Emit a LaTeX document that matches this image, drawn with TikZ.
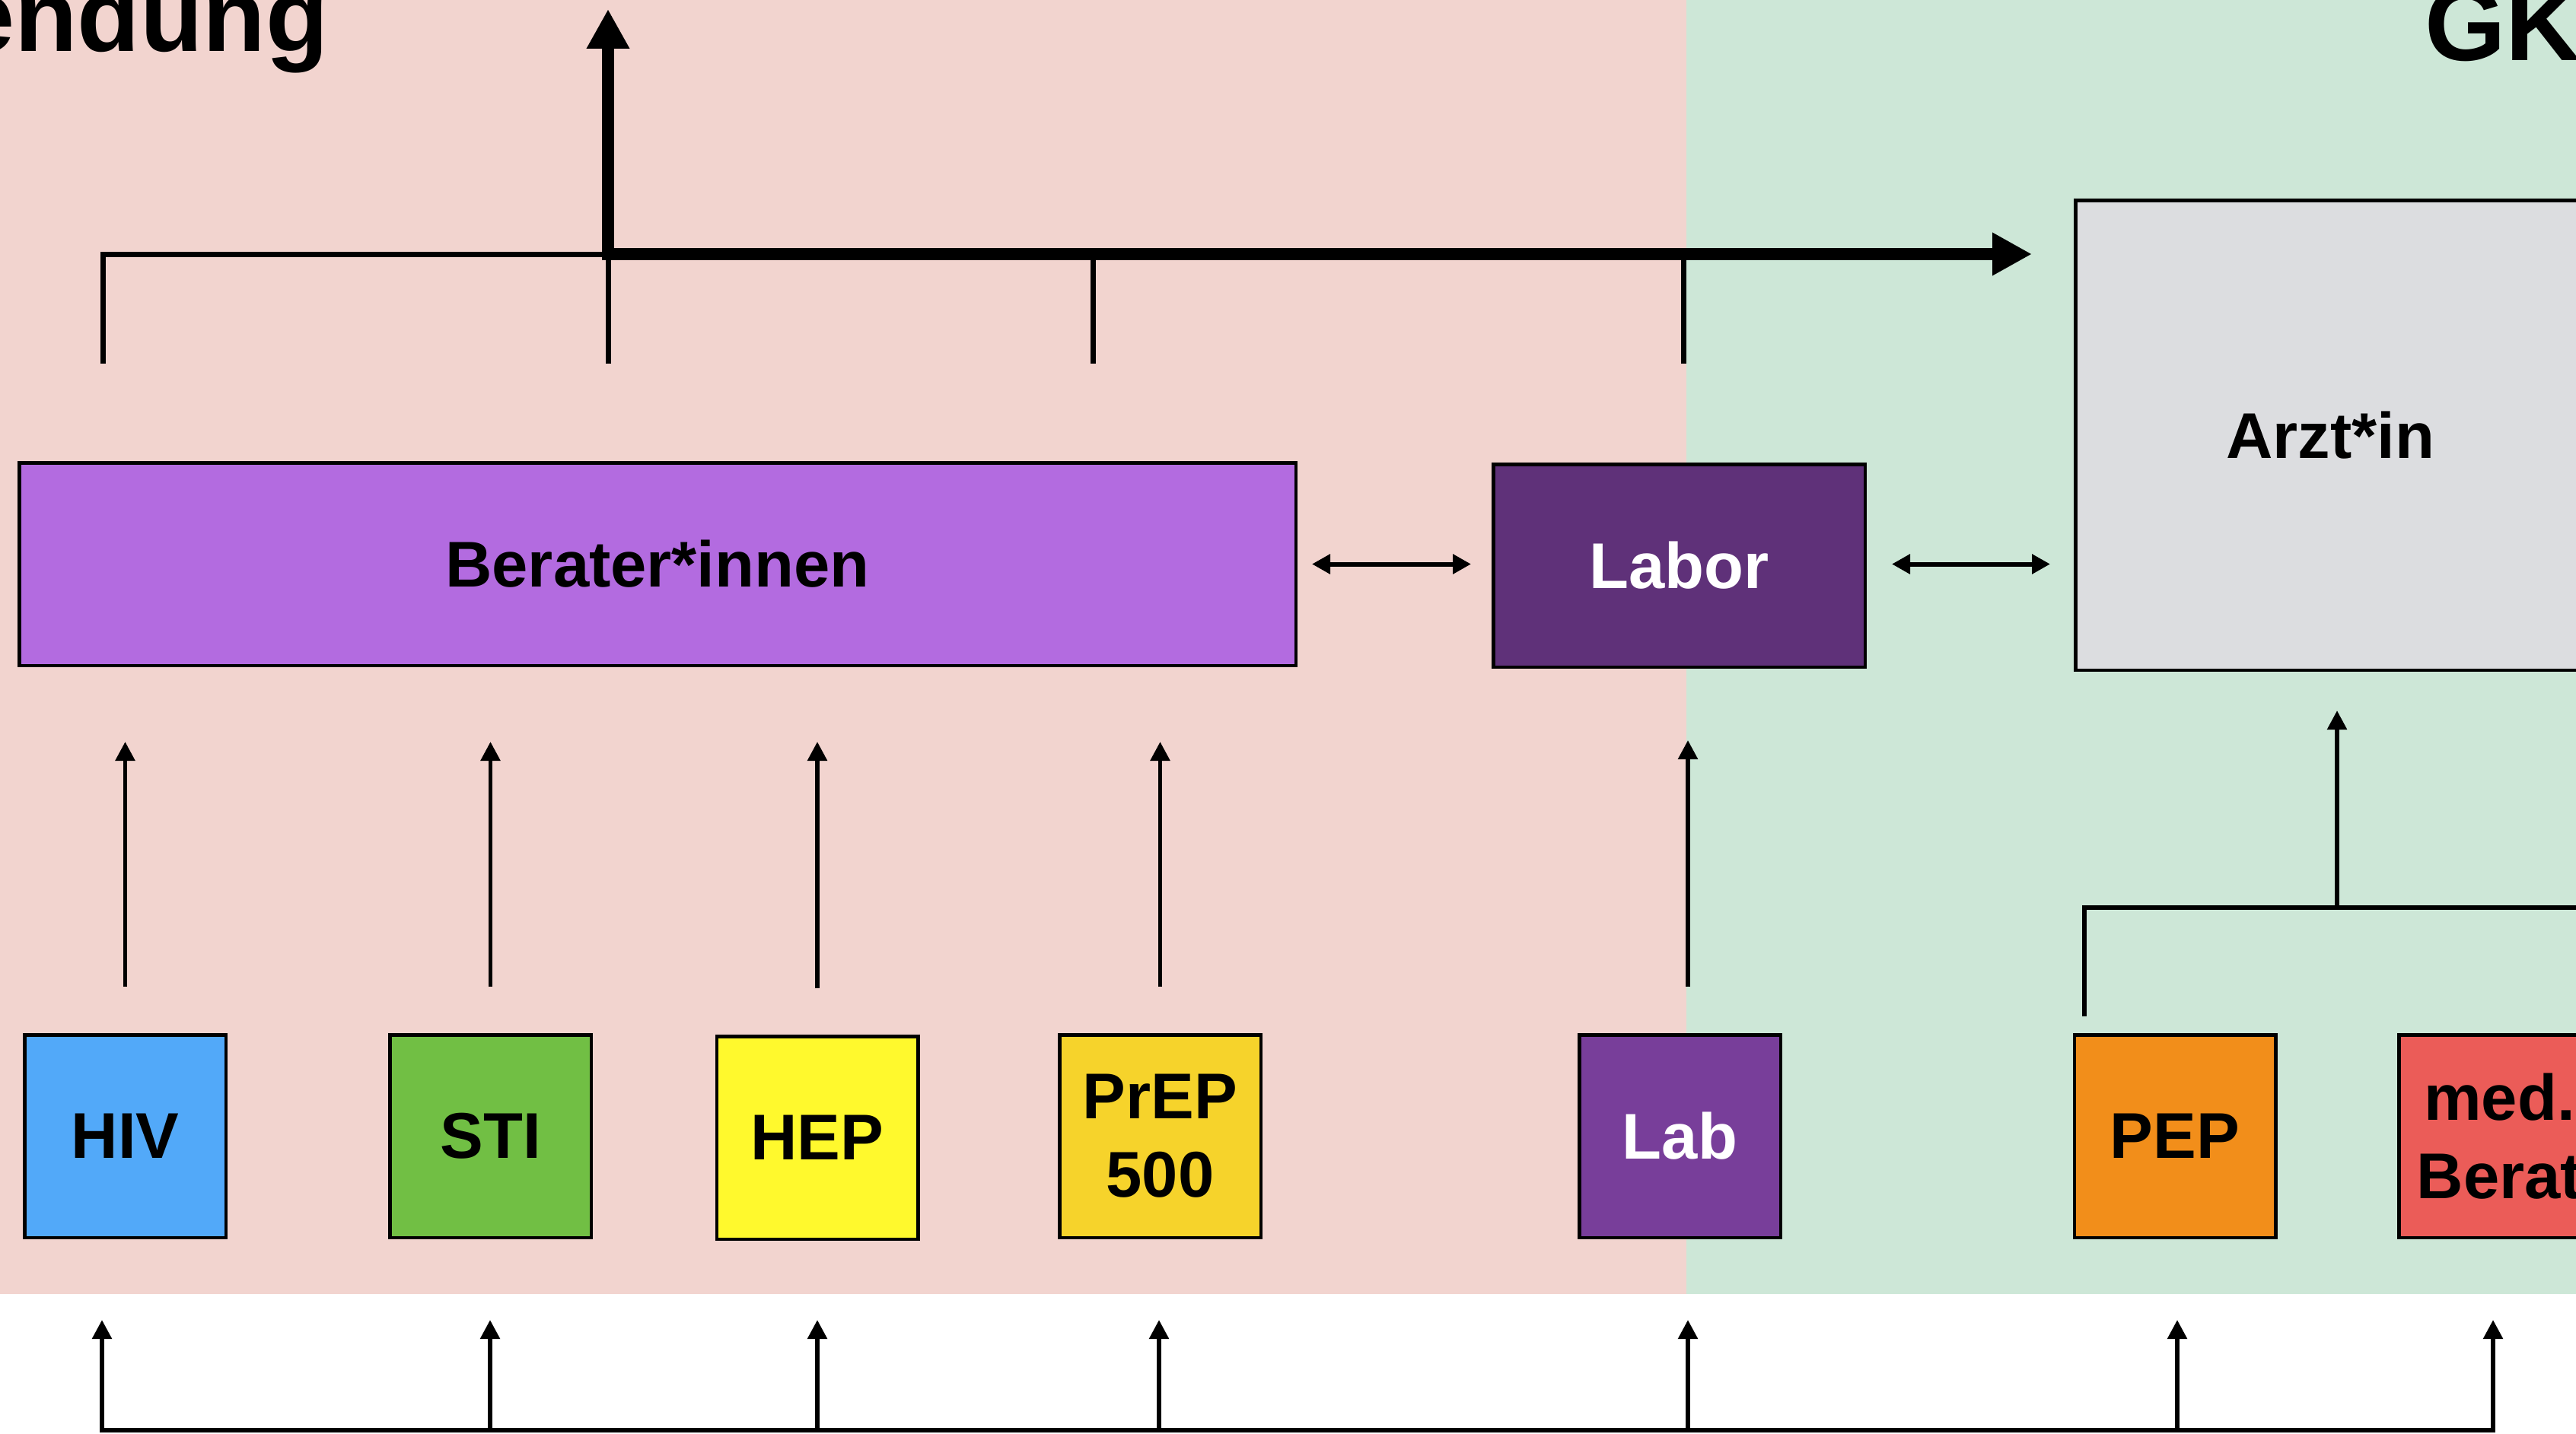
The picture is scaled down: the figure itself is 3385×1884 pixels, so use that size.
\documentclass[tikz,border=0pt]{standalone}
\usepackage{fontspec}
\setmainfont{Liberation Sans}
\usetikzlibrary{arrows.meta,calc}
\definecolor{pinkbg}{HTML}{F2D4CF}
\definecolor{greenbg}{HTML}{CDE7D7}
\definecolor{berc}{HTML}{B36BE0}
\definecolor{laborc}{HTML}{5F3179}
\definecolor{arztc}{HTML}{DCDDE0}
\definecolor{hivc}{HTML}{52A9F9}
\definecolor{stic}{HTML}{71BF44}
\definecolor{hepc}{HTML}{FFF92D}
\definecolor{prepc}{HTML}{F6D32B}
\definecolor{labc}{HTML}{783E9A}
\definecolor{pepc}{HTML}{F28E1A}
\definecolor{medc}{HTML}{EB5C58}
\newcommand\bxfont{\fontsize{85}{103}\selectfont\bfseries}
\newcommand\ttlfont{\fontsize{135}{150}\selectfont\bfseries}
\newcommand\ttlfontb{\fontsize{137}{150}\selectfont\bfseries}
\begin{document}
\begin{tikzpicture}[x=1pt,y=-1pt,
  box/.style={draw=black, line width=4.5pt, inner sep=0pt, align=center, font=\bxfont,
              minimum width=264.5pt, minimum height=266.5pt},
  conn/.style={line width=5.5pt},
  thinb/.style={line width=7pt},
  arr/.style={line width=5.5pt, -{Triangle[length=25pt,width=25pt]}},
  darr/.style={line width=6pt, {Triangle[length=24pt,width=25pt]}-{Triangle[length=24pt,width=25pt]}},
  bigarr/.style={line width=16pt, -{Triangle[length=52pt,width=53pt]}},
  ttl/.style={inner sep=0pt, text=black}
]
\useasboundingbox (0,0) rectangle (3385,1884);
\clip (0,0) rectangle (3385,1884);
% backgrounds
\fill[pinkbg] (0,0) rectangle (2216,1701);
\fill[greenbg] (2216,0) rectangle (3400,1701);

% titles
\node[ttl, anchor=base east, font=\ttlfont] (title1) at (432,67) {endung};
\node[ttl, anchor=base west, font=\ttlfontb] (title2) at (3186,80) {GK};

% main boxes
\node[box, fill=berc, minimum width=1677.5pt] (ber) at (864,741.5) {Berater*innen};
\node[box, fill=laborc, text=white, minimum width=488.5pt] (labor) at (2206.5,743.5) {Labor};
\node[box, fill=arztc, minimum width=669.5pt, minimum height=617.5pt] (arzt) at (3062,572) {Arzt*in};

% small boxes
\node[box, fill=hivc] (hiv) at (164.5,1493.5) {HIV};
\node[box, fill=stic] (sti) at (644.5,1493.5) {STI};
\node[box, fill=hepc] (hep) at (1074,1495.5) {HEP};
\node[box, fill=prepc] (prep) at (1524.5,1493.5) {PrEP\\500};
\node[box, fill=labc, text=white] (lab) at (2207.5,1493.5) {Lab};
\node[box, fill=pepc] (pep) at (2858,1493.5) {PEP};
\node[box, fill=medc] (med) at (3284.5,1493.5) {med.\\Berat};

% top bracket
\coordinate (ta) at (135,334);
\coordinate (tb) at (799,334);
\coordinate (tc) at (1436,334);
\coordinate (td) at (2212,334);
\coordinate (tend) at (2670,334);
\coordinate (tup) at (799,12);
\coordinate (tlow) at (0,478);
\draw[thinb] (ta |- tlow) -- (ta) -- (tb) -- (tb |- tlow);
\draw[thinb] (tc) -- (tc |- tlow);
\draw[thinb] (td) -- (td |- tlow);
\draw[bigarr] (tb) -- (tend);
\draw[bigarr] ([yshift=-8pt]tb) -- (tup);

% arrows from small boxes up to Berater
\foreach \n in {hiv,sti,hep,prep}
  \draw[arr, shorten <=61pt, shorten >=98pt] (\n.north) -- (\n.north |- ber.south);
\coordinate (labx) at (2218,0);
\draw[arr, shorten <=61pt, shorten >=94pt] (lab.north -| labx) -- (labor.south -| labx);

% double arrows
\draw[darr, shorten <=19pt, shorten >=27pt] (ber.east) -- (labor.west |- ber.east);
\draw[darr, shorten <=33pt, shorten >=31pt] (labor.east |- ber.east) -- (arzt.west |- ber.east);

% PEP bracket to Arzt
\coordinate (pa) at (2739,1336);
\coordinate (pb) at (2739,1193);
\coordinate (pc) at (3071,1193);
\coordinate (pd) at (3420,1193);
\draw[line width=6pt] (pa) -- (pb) -- (pd);
\draw[arr, shorten >=51pt] (pc) -- (pc |- arzt.south);

% bottom line and arrows
\coordinate (b1) at (134,1880);
\coordinate (b2) at (644,1880);
\coordinate (b3) at (1074,1880);
\coordinate (b4) at (1523,1880);
\coordinate (b5) at (2218,1880);
\coordinate (b6) at (2861,1880);
\coordinate (b7) at (3276,1880);
\draw[conn] ([xshift=-2.75pt]b1) -- ([xshift=2.75pt]b7);
\draw[arr, shorten >=106pt] (b1) -- (b1 |- hiv.south);
\draw[arr, shorten >=106pt] (b2) -- (b2 |- sti.south);
\draw[arr, shorten >=104pt] (b3) -- (b3 |- hep.south);
\draw[arr, shorten >=106pt] (b4) -- (b4 |- prep.south);
\draw[arr, shorten >=106pt] (b5) -- (b5 |- lab.south);
\draw[arr, shorten >=106pt] (b6) -- (b6 |- pep.south);
\draw[arr, shorten >=106pt] (b7) -- (b7 |- med.south);
\end{tikzpicture}
\end{document}
